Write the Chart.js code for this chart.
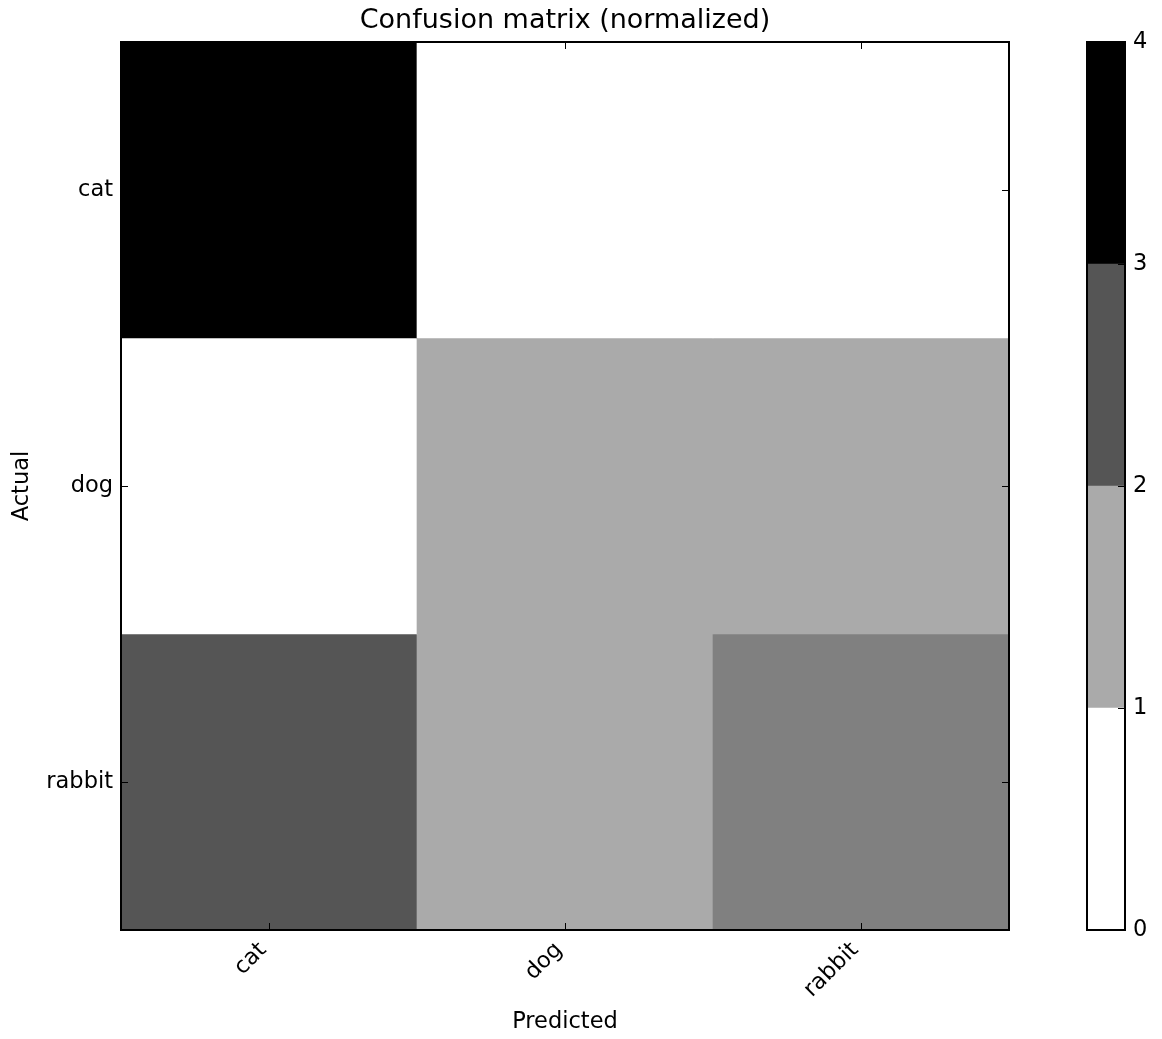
<!DOCTYPE html>
<html>
<head>
<meta charset="utf-8">
<script src="https://cdn.jsdelivr.net/npm/chart.js@4.4.1/dist/chart.umd.min.js"></script>
<style>
  html, body { margin: 0; padding: 0; background: #fff; }
  #wrap { position: relative; width: 1162px; height: 1039px; }
  #main { position: absolute; left: 0; top: 0; }
  #cbar { position: absolute; left: 1040px; top: 0; }
</style>
</head>
<body>
<div id="wrap">
  <canvas id="main" width="1130" height="1039"></canvas>
  <canvas id="cbar" width="122" height="1039"></canvas>
</div>
<script>
// ---- data ----
const predictedLabels = ['cat', 'dog', 'rabbit'];
const actualLabels = ['cat', 'dog', 'rabbit'];
const rowCat = [4, 0, 0];
const rowDog = [0, 1.33, 1.33];
const rowRabbit = [2.67, 1.33, 2];
const matrixRows = [rowCat, rowDog, rowRabbit];
const colorbarTicks = [0, 1, 2, 3, 4];
const colorbarLevels = [0, 1.33, 2.67, 4];
const vmax = 4;

// ---- helpers ----
const FONT = 'DejaVu Sans';
const TICK_SIZE = 22.5;
function gray(v) {
  const g = Math.round(255 * (1 - v / vmax));
  return 'rgb(' + g + ',' + g + ',' + g + ')';
}
const BW = 2;
const frameBorder = { display: true, color: '#000', width: BW, z: 2 };
const inwardGrid = { z: 1, drawOnChartArea: false, drawTicks: true, tickLength: -7, color: '#000', lineWidth: 1, offset: false };

// ---- main matrix ----
const mainDatasets = matrixRows.map((row, r) => ({
  data: row.map(() => [r, r + 1]),
  backgroundColor: row.map(gray),
  borderWidth: 0,
  grouped: false,
  barPercentage: 1,
  categoryPercentage: 1
}));

const rowTicks = (axis) => { axis.ticks = actualLabels.map((_, i) => ({ value: i + 0.5 })); };

new Chart(document.getElementById('main'), {
  type: 'bar',
  data: { labels: predictedLabels, datasets: mainDatasets },
  options: {
    responsive: false,
    animation: false,
    devicePixelRatio: 1,
    layout: { padding: { left: 0, right: 0, top: 0, bottom: 0 } },
    plugins: {
      legend: { display: false },
      tooltip: { enabled: false },
      title: {
        display: true,
        text: 'Confusion matrix (normalized)',
        color: '#000',
        font: { family: FONT, size: 27, weight: 'normal', lineHeight: 1.2 },
        padding: { top: 5, bottom: 4.6 }
      }
    },
    scales: {
      x: {
        type: 'category',
        position: 'bottom',
        offset: true,
        grid: inwardGrid,
        border: frameBorder,
        ticks: {
          z: 2,
          autoSkip: false, minRotation: 45, maxRotation: 45, labelOffset: -6,
          color: '#000', font: { family: FONT, size: TICK_SIZE }, padding: 14
        },
        title: {
          display: true, text: 'Predicted', color: '#000',
          font: { family: FONT, size: TICK_SIZE, lineHeight: 1.2 },
          padding: { top: 0, bottom: 3 }
        },
        afterFit: (s) => { s.height = 109; }
      },
      x2: {
        type: 'category',
        position: 'top',
        offset: true,
        grid: inwardGrid,
        border: frameBorder,
        ticks: { display: false },
        afterFit: (s) => { s.height = 0; }
      },
      y: {
        type: 'linear',
        position: 'left',
        min: 0, max: 3, reverse: true,
        afterBuildTicks: rowTicks,
        grid: inwardGrid,
        border: frameBorder,
        ticks: {
          z: 2,
          color: '#000', font: { family: FONT, size: TICK_SIZE }, padding: 15,
          callback: (v, i) => actualLabels[i]
        },
        title: {
          display: true, text: 'Actual', color: '#000',
          font: { family: FONT, size: TICK_SIZE, lineHeight: 1.2 },
          padding: { top: 9, bottom: 0 }
        },
        afterFit: (s) => { s.width = 121; }
      },
      y2: {
        type: 'linear',
        position: 'right',
        min: 0, max: 3, reverse: true,
        afterBuildTicks: rowTicks,
        grid: inwardGrid,
        border: frameBorder,
        ticks: { display: false },
        afterFit: (s) => { s.width = 121; }
      }
    }
  }
});

// ---- colorbar ----
const cbarDatasets = colorbarLevels.map((lv, i) => ({
  data: [[colorbarTicks[i], colorbarTicks[i + 1]]],
  backgroundColor: gray(lv),
  borderWidth: 0,
  grouped: false,
  barPercentage: 1,
  categoryPercentage: 1
}));

const plainEdge = { z: 1, drawOnChartArea: false, drawTicks: false, color: '#000' };

new Chart(document.getElementById('cbar'), {
  type: 'bar',
  data: { labels: [''], datasets: cbarDatasets },
  options: {
    responsive: false,
    animation: false,
    devicePixelRatio: 1,
    layout: { padding: { left: 47, right: 0, top: 42, bottom: 109 } },
    plugins: { legend: { display: false }, tooltip: { enabled: false }, title: { display: false } },
    scales: {
      x: {
        type: 'category', position: 'bottom', offset: true,
        grid: plainEdge, border: frameBorder, ticks: { display: false },
        afterFit: (s) => { s.height = 0; }
      },
      x2: {
        type: 'category', position: 'top', offset: true,
        grid: plainEdge, border: frameBorder, ticks: { display: false },
        afterFit: (s) => { s.height = 0; }
      },
      y: {
        type: 'linear', position: 'right', min: 0, max: 4,
        afterBuildTicks: (axis) => { axis.ticks = colorbarTicks.map(v => ({ value: v })); },
        grid: { z: 1, drawOnChartArea: false, drawTicks: true, tickLength: -7, color: '#000', lineWidth: 1 },
        border: frameBorder,
        ticks: { z: 2, color: '#000', font: { family: FONT, size: TICK_SIZE }, padding: 15 },
        afterFit: (s) => { s.width = 37; }
      },
      y2: {
        type: 'linear', position: 'left', min: 0, max: 4,
        grid: plainEdge, border: frameBorder, ticks: { display: false },
        afterFit: (s) => { s.width = 0; }
      }
    }
  }
});
</script>
</body>
</html>
